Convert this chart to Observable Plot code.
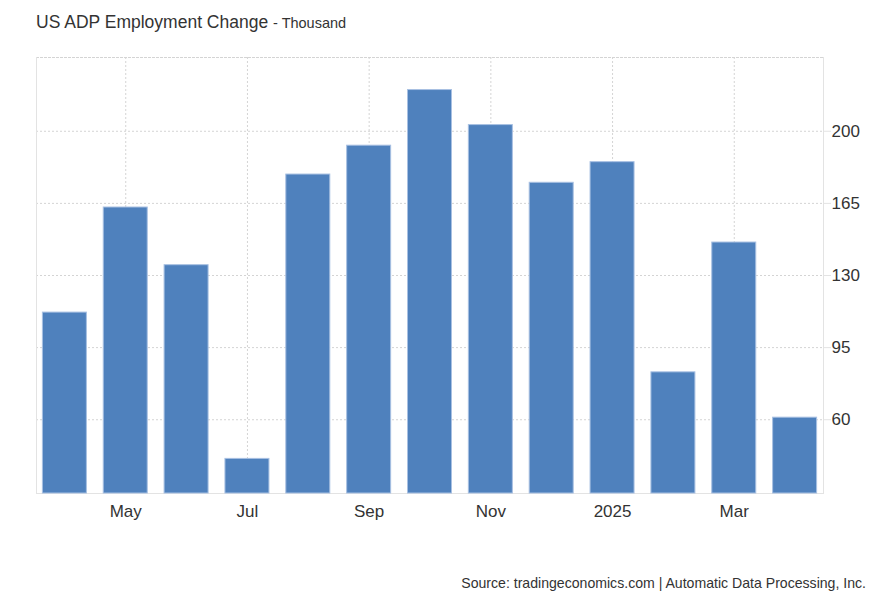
<!DOCTYPE html>
<html>
<head>
<meta charset="utf-8">
<script src="https://cdn.jsdelivr.net/npm/d3@7"></script>
<script src="https://cdn.jsdelivr.net/npm/@observablehq/plot@0.6"></script>
<style>
  html, body { margin: 0; padding: 0; background: #fff; width: 882px; height: 603px; overflow: hidden; }
  body { font-family: "Liberation Sans", Arial, Helvetica, sans-serif; color: #333; position: relative; }
  #title { position: absolute; left: 36px; top: 12px; font-size: 17.5px; color: #333; white-space: nowrap; }
  #title span { font-size: 14.5px; }
  #chart { position: absolute; left: 0; top: 0; }
  #source { position: absolute; right: 16px; top: 575px; font-size: 14.1px; color: #333; white-space: nowrap; }
</style>
</head>
<body>
<div id="title">US ADP Employment Change <span>- Thousand</span></div>
<div id="chart"></div>
<div id="source">Source: tradingeconomics.com | Automatic Data Processing, Inc.</div>
<script>
// Data (thousands)
const months = ["2024-04","2024-05","2024-06","2024-07","2024-08","2024-09","2024-10","2024-11","2024-12","2025-01","2025-02","2025-03","2025-04"];
const values = [112, 163, 135, 41, 179, 193, 220, 203, 175, 185, 83, 146, 61];
const tickMonths = ["2024-05","2024-07","2024-09","2024-11","2025-01","2025-03"];
const tickLabels = ["May","Jul","Sep","Nov","2025","Mar"];
const yTicks = [60, 95, 130, 165, 200];
const yDomain = [24.2, 235.8];

const data = months.map((m, i) => ({month: m, value: values[i]}));
const labelOf = new Map(tickMonths.map((m, i) => [m, tickLabels[i]]));

const plot = Plot.plot({
  width: 882,
  height: 540,
  marginTop: 57,
  marginBottom: 47,
  marginLeft: 36,
  marginRight: 59,
  style: {fontFamily: "'Liberation Sans', Arial, Helvetica, sans-serif", fontSize: "17px", color: "#333", background: "transparent"},
  x: {type: "band", domain: months, paddingInner: 0.277, paddingOuter: 0.105, round: false, label: null},
  y: {domain: yDomain, label: null},
  marks: [
    Plot.ruleY(yTicks, {stroke: "#d4d4d4", strokeDasharray: "2,2"}),
    Plot.ruleX(tickMonths, {x: d => d, stroke: "#d4d4d4", strokeDasharray: "2,2"}),
    Plot.frame({anchor: "top", stroke: "#d4d4d4", strokeDasharray: "2,2"}),
    Plot.frame({anchor: "left", stroke: "#e3e3e3"}),
    Plot.frame({anchor: "right", stroke: "#e3e3e3"}),
    Plot.frame({anchor: "bottom", stroke: "#e3e3e3"}),
    Plot.barY(data, {x: "month", y1: yDomain[0], y2: "value", fill: "#4f81bd", stroke: "#a8c0e2", strokeWidth: 1}),
    Plot.axisX({ticks: tickMonths, tickFormat: d => labelOf.get(d), tickSize: 0, tickPadding: 11, fill: "#333", fontSize: 17}),
    Plot.axisY({anchor: "right", ticks: yTicks, tickSize: 7, tickPadding: 1, stroke: "#e3e3e3", fill: "#333", fontSize: 17})
  ]
});
document.getElementById("chart").appendChild(plot);
</script>
</body>
</html>
